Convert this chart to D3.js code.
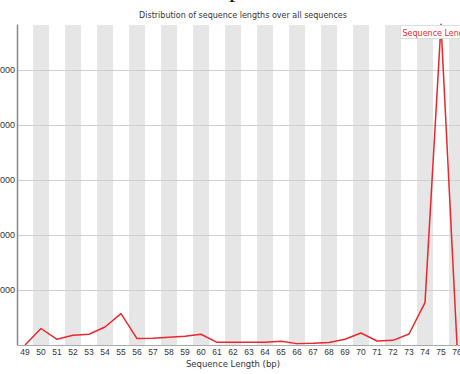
<!DOCTYPE html>
<html>
<head>
<meta charset="utf-8">
<script src="https://cdn.jsdelivr.net/npm/d3@7"></script>
<style>
  body { margin: 0; background: #fff; }
  svg { display: block; font-family: "DejaVu Sans", sans-serif; }
</style>
</head>
<body>
<div id="chart"></div>
<script>
// sequence length (bp) and read counts
const lengths = [49, 50, 51, 52, 53, 54, 55, 56, 57, 58, 59, 60, 61, 62,
                 63, 64, 65, 66, 67, 68, 69, 70, 71, 72, 73, 74, 75, 76]
const counts = [0, 3000, 1040, 1760, 1950, 3270, 5700, 1160, 1240, 1400, 1580, 1950, 490, 490,
                490, 490, 670, 250, 300, 440, 1040, 2180, 730, 850, 2000, 7700, 58300, 0]
const yTicks = [10000, 20000, 30000, 40000, 50000]
const seriesName = "Sequence Length"

const width = 460
const height = 374
const marginLeft = 17       // plot starts at the left edge of the 49 band
const marginTop = 24
const plotBottom = 345
const band = 16             // one category per 16px, plot runs off the right edge

const svg = d3.select("#chart")
    .append("svg")
    .attr("width", width)
    .attr("height", height)

const x = d3.scaleBand(lengths, [marginLeft, marginLeft + band * lengths.length])
const y = d3.scaleLinear([0, 58364], [plotBottom, marginTop])

// alternate grey stripes
svg.append("g")
    .selectAll("rect")
    .data(lengths.filter((d, i) => i % 2 === 1))
    .join("rect")
    .attr("x", d => x(d))
    .attr("y", marginTop + 1)
    .attr("width", x.bandwidth())
    .attr("height", plotBottom - marginTop - 1)
    .attr("fill", "#e6e6e6")

// horizontal grid lines
svg.append("g")
    .selectAll("line")
    .data(yTicks)
    .join("line")
    .attr("x1", marginLeft)
    .attr("x2", width)
    .attr("y1", d => y(d) + 0.5)
    .attr("y2", d => y(d) + 0.5)
    .attr("stroke", "#cfcfcf")

// y axis (labels are cut off by the left edge in the reference)
const yAxis = d3.axisLeft(y).tickValues(yTicks).tickSize(0).tickPadding(2).tickFormat(d3.format("d"))
svg.append("g")
    .attr("transform", `translate(${marginLeft},0)`)
    .call(yAxis)
    .call(g => g.select(".domain").attr("stroke", "#888").attr("stroke-width", 1.5))
    .call(g => g.selectAll("text").attr("font-size", 9).attr("fill", "#333"))

// x axis
const xAxis = d3.axisBottom(x).tickSize(0).tickPadding(4)
svg.append("g")
    .attr("transform", `translate(0,${plotBottom})`)
    .call(xAxis)
    .call(g => g.select(".domain").attr("stroke", "#aaa").attr("d", `M${marginLeft},0.5H${width}`))
    .call(g => g.selectAll("text").attr("font-size", 8.5).attr("fill", "#333"))

// the line
const line = d3.line()
    .x((d, i) => x(lengths[i]) + x.bandwidth() / 2)
    .y(d => y(d))

svg.append("path")
    .datum(counts)
    .attr("fill", "none")
    .attr("stroke", "#e8282c")
    .attr("stroke-width", 1.5)
    .attr("stroke-linejoin", "round")
    .attr("d", line)

// legend box
svg.append("rect")
    .attr("x", 400.5)
    .attr("y", 25.5)
    .attr("width", 70)
    .attr("height", 13)
    .attr("fill", "#fff")
    .attr("stroke", "#ddd")
svg.append("text")
    .attr("x", 402.5)
    .attr("y", 35.5)
    .attr("font-size", 8)
    .attr("fill", "#e8282c")
    .text(seriesName)

// title
svg.append("text")
    .attr("x", 243)
    .attr("y", 18)
    .attr("text-anchor", "middle")
    .attr("font-size", 8)
    .attr("fill", "#333")
    .text("Distribution of sequence lengths over all sequences")

// x label
svg.append("text")
    .attr("x", 233)
    .attr("y", 367)
    .attr("text-anchor", "middle")
    .attr("font-size", 8.5)
    .attr("fill", "#333")
    .text("Sequence Length (bp)")

// descender of a heading letter above the crop
svg.append("text")
    .attr("x", 229)
    .attr("y", -3)
    .attr("font-family", "Liberation Serif, serif")
    .attr("font-size", 26)
    .attr("fill", "#111")
    .text("p")
</script>
</body>
</html>
